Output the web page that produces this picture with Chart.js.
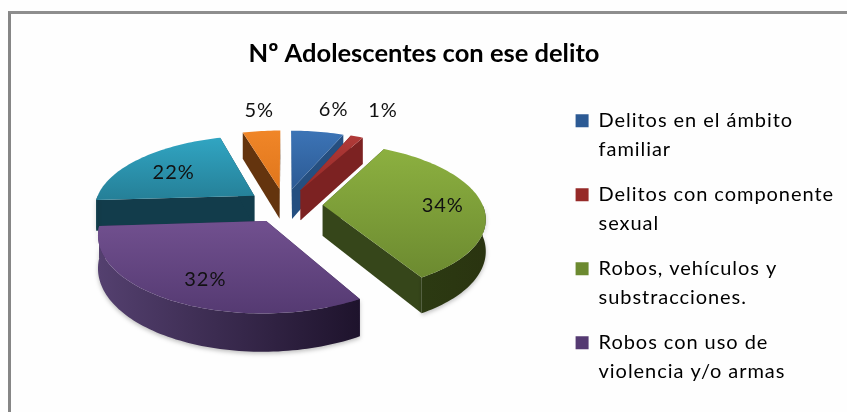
<!DOCTYPE html>
<html>
<head>
<meta charset="utf-8">
<style>
    html, body { margin: 0; padding: 0; background: #fefefe; overflow: hidden; }
    #frame { position: absolute; left: 8px; top: 11px; right: 0; bottom: 0; border-left: 3px solid #868686; border-top: 3px solid #8e8e8e; }
    canvas { position: absolute; left: 0; top: 0; }
</style>
<script src="https://cdn.jsdelivr.net/npm/chart.js@4"></script>
</head>
<body>
<div id="frame"></div>
<canvas id="pie3d" width="847" height="412"></canvas>
<script>
const chartTitle = "Nº Adolescentes con ese delito";
// the last two legend rows are cut off in the picture, so their names stay empty
const categories = [
    ["Delitos en el ámbito", "familiar"],
    ["Delitos con componente", "sexual"],
    ["Robos, vehículos y", "substracciones."],
    ["Robos con uso de", "violencia y/o armas"],
    "",
    "",
];
// the labels show them rounded
const percents = [6.3, 1.49, 33.85, 32.35, 21.5, 4.5];

const topLight = ["#3c74b6", "#b03a38", "#8cb040", "#71508f", "#31a5c2", "#f08628"];
const topDark = ["#2c5a94", "#962a28", "#6c8a30", "#553a72", "#257f97", "#e0761c"];
const radialWall = ["#254f80", "#7c2222", "#36461a", "#3d2a55", "#123c4b", "#64340e"];
const outerLight = ["#254f80", "#7c2222", "#2c3a12", "#54406f", "#164552", "#64340e"];
const outerDark = ["#254f80", "#7c2222", "#2a3410", "#1e132c", "#123c4b", "#64340e"];
const labelReach = [1.49, 1.61, 0.74, 0.7, 0.7, 1.48];
const labelNudgeX = [6, -2, 2, 2, 2, 5];
const labelNudgeY = [1, 1, 1, 5, 3, 2];

// fake 3D view of the flat pie
const tilt = 0.452;
const perspective = 0.158;
const depth = 31;
const shiftX = 3;
const shiftY = -40;
const legendSpacing = "0.95px";

const pie3d = {
    id: "pie3d",
    // the legend text in the picture runs wider than the font, only the legend gets extra spacing
    beforeLayout(chart) {
        const legend = chart.legend;
        if (legend.spaced) return;
        legend.spaced = true;
        ["fit", "draw"].forEach((name) => {
            const original = legend[name];
            legend[name] = function () {
                chart.ctx.letterSpacing = legendSpacing;
                original.call(legend);
                chart.ctx.letterSpacing = "0px";
            };
        });
    },
    beforeDatasetsDraw(chart) {
        const { ctx } = chart;
        const arcs = chart.getDatasetMeta(0).data;

        const project = (arc, u, v, z) => {
            const w = 1 - (perspective * v) / arc.outerRadius;
            return {
                x: arc.x + shiftX + u / w,
                y: arc.y + shiftY + (tilt * v + z) / w,
            };
        };
        // point on a slice: r along the angle, after moving the slice out by its offset
        const slicePoint = (arc, angle, r, z) => {
            const mid = (arc.startAngle + arc.endAngle) / 2;
            const off = arc.options.offset;
            const u = off * Math.cos(mid) + r * Math.cos(angle);
            const v = off * Math.sin(mid) + r * Math.sin(angle);
            return project(arc, u, v, z);
        };
        const rimAngles = (from, to) => {
            const steps = Math.max(2, Math.ceil((to - from) * 40));
            const list = [];
            for (let s = 0; s <= steps; s++) {
                list.push(from + ((to - from) * s) / steps);
            }
            return list;
        };
        const fillPath = (points, style) => {
            ctx.beginPath();
            points.forEach((p, n) => (n ? ctx.lineTo(p.x, p.y) : ctx.moveTo(p.x, p.y)));
            ctx.closePath();
            ctx.fillStyle = style;
            ctx.fill();
        };

        // paint the slices from the back to the front
        const order = arcs
            .map((arc, i) => i)
            .sort((a, b) => {
                const midA = (arcs[a].startAngle + arcs[a].endAngle) / 2;
                const midB = (arcs[b].startAngle + arcs[b].endAngle) / 2;
                return Math.sin(midA) - Math.sin(midB);
            });

        order.forEach((i) => {
            const arc = arcs[i];
            const R = arc.outerRadius;

            // cut faces
            [arc.startAngle, arc.endAngle].forEach((angle) => {
                fillPath(
                    [
                        slicePoint(arc, angle, 0, 0),
                        slicePoint(arc, angle, R, 0),
                        slicePoint(arc, angle, R, depth),
                        slicePoint(arc, angle, 0, depth),
                    ],
                    radialWall[i]
                );
            });

            // rim, only the part turned to the viewer
            const from = Math.max(arc.startAngle, 0);
            const to = Math.min(arc.endAngle, Math.PI);
            if (to > from) {
                const upper = rimAngles(from, to).map((a) => slicePoint(arc, a, R, 0));
                const lower = rimAngles(from, to).map((a) => slicePoint(arc, a, R, depth)).reverse();
                const xs = upper.map((p) => p.x);
                const side = ctx.createLinearGradient(Math.min(...xs), 0, Math.max(...xs), 0);
                side.addColorStop(0, outerLight[i]);
                side.addColorStop(1, outerDark[i]);
                ctx.save();
                ctx.shadowColor = "rgba(0, 0, 0, 0.25)";
                ctx.shadowBlur = 4;
                ctx.shadowOffsetY = 2;
                fillPath(upper.concat(lower), side);
                ctx.restore();
            }

            // top
            const rim = rimAngles(arc.startAngle, arc.endAngle).map((a) => slicePoint(arc, a, R, 0));
            const outline = [slicePoint(arc, arc.startAngle, 0, 0)].concat(rim);
            const ys = outline.map((p) => p.y);
            const top = ctx.createLinearGradient(0, Math.min(...ys), 0, Math.max(...ys));
            top.addColorStop(0, topLight[i]);
            top.addColorStop(1, topDark[i]);
            fillPath(outline, top);
        });

        // percent labels
        ctx.font = "20px Lato";
        ctx.letterSpacing = "1px";
        ctx.fillStyle = "#111111";
        ctx.textAlign = "center";
        ctx.textBaseline = "middle";
        arcs.forEach((arc, i) => {
            const mid = (arc.startAngle + arc.endAngle) / 2;
            const p = slicePoint(arc, mid, labelReach[i] * arc.outerRadius, 0);
            ctx.fillText(Math.round(percents[i]) + "%", p.x + labelNudgeX[i], p.y + labelNudgeY[i]);
        });
        ctx.letterSpacing = "0px";
        return false;
    },
};

new Chart(document.getElementById("pie3d"), {
    type: "pie",
    data: {
        labels: categories,
        datasets: [
            {
                data: percents,
                backgroundColor: topDark,
                borderWidth: 0,
                offset: 38,
                radius: 160,
            },
        ],
    },
    options: {
        responsive: false,
        animation: false,
        layout: { padding: { left: 4, right: 3 } },
        plugins: {
            title: {
                display: true,
                text: chartTitle,
                color: "#000000",
                font: { family: "Lato", size: 25.5, weight: "bold" },
                padding: { top: 38, bottom: 10 },
            },
            legend: {
                position: "right",
                title: { display: true, text: "", padding: 37.5 },
                labels: {
                    color: "#000000",
                    font: { family: "Lato", size: 20, lineHeight: 1.45 },
                    boxWidth: 13,
                    boxHeight: 13,
                    padding: 16,
                    filter: (item) => item.text !== "",
                },
            },
            tooltip: { enabled: false },
        },
    },
    plugins: [pie3d],
});
</script>
</body>
</html>
